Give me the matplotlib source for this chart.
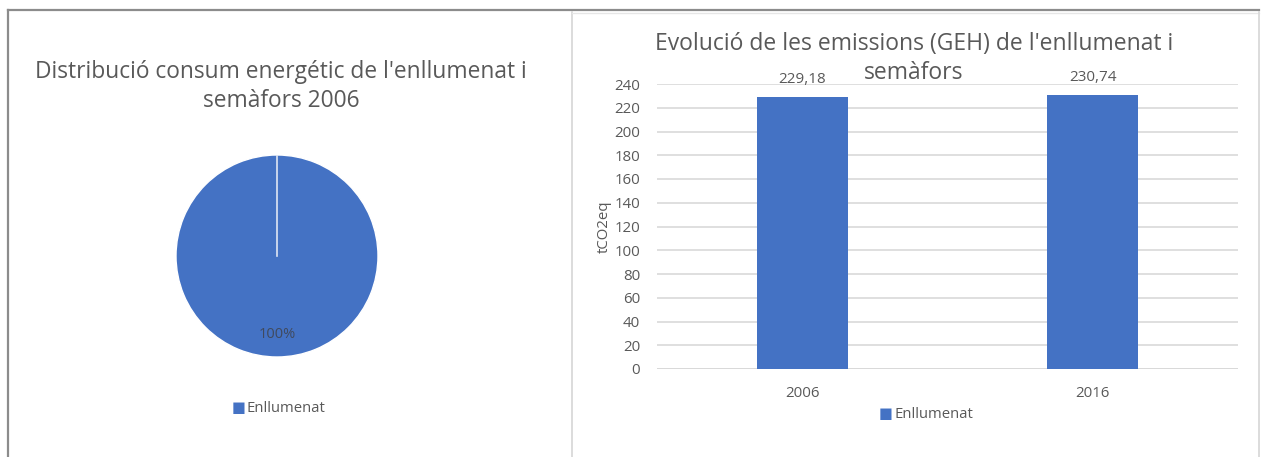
import matplotlib.pyplot as plt
from matplotlib.lines import Line2D

plt.rcParams['font.family'] = ['Open Sans', 'DejaVu Sans']

# dades
pie_labels = ['Enllumenat']
pie_values = [100]
years = ['2006', '2016']
emissions = [229.18, 230.74]
yticks = list(range(0, 241, 20))

W, H = 1261, 457
blue = '#4472C4'
txt = '#595959'
grid = '#D9D9D9'


def fx(x):
    return x / W


def fy(y):
    return 1 - y / H


fig = plt.figure(figsize=(W / 100, H / 100), dpi=100)
fig.patch.set_facecolor('white')

# marcs dels dos gràfics
fig.add_artist(Line2D([fx(8), fx(1259)], [fy(10), fy(10)], color='#8c8c8c', lw=1.6))
fig.add_artist(Line2D([fx(8), fx(8)], [fy(10), fy(457)], color='#8c8c8c', lw=1.6))
fig.add_artist(Line2D([fx(572), fx(572)], [fy(12), fy(457)], color='#d9d9d9', lw=1.3))
fig.add_artist(Line2D([fx(572), fx(1259)], [fy(13), fy(13)], color='#e6e6e6', lw=1.0))
fig.add_artist(Line2D([fx(1259), fx(1259)], [fy(12), fy(457)], color='#d9d9d9', lw=1.3))

# --- pastís ---
r = 101
ax1 = fig.add_axes([fx(277 - r), fy(256 + r), (2 * r) / W, (2 * r) / H])
wedges, texts, autotexts = ax1.pie(
    pie_values, colors=[blue], startangle=90, counterclock=False,
    autopct='%1.0f%%', pctdistance=0.78,
    wedgeprops=dict(edgecolor='white', linewidth=1.0),
    textprops=dict(color='#404a5e', fontsize=10.5))
ax1.set_xlim(-1, 1)
ax1.set_ylim(-1, 1)
ax1.set_aspect('equal')
ax1.plot([0, 0], [0, 1], color='#dfe6f3', lw=1.2)

fig.text(fx(281), fy(72), "Distribució consum energétic de l'enllumenat i",
         ha='center', va='center', fontsize=16.4, color=txt)
fig.text(fx(281), fy(101), "semàfors 2006",
         ha='center', va='center', fontsize=16.4, color=txt)

fig.text(fx(239), fy(409), '■', ha='center', va='center', fontsize=10.5, color=blue)
fig.text(fx(246), fy(409), pie_labels[0], ha='left', va='center', fontsize=10.7, color=txt)

# --- barres ---
ax2 = fig.add_axes([fx(657), fy(369), (1238 - 657) / W, (369 - 84) / H])
x = range(len(years))
bars = ax2.bar(x, emissions, width=0.313, color=blue, zorder=3)
ax2.set_xlim(-0.5, 1.5)
ax2.set_ylim(0, 240)
ax2.set_yticks(yticks)
ax2.set_xticks(list(x))
ax2.set_xticklabels(years)
ax2.tick_params(axis='both', length=0, colors=txt, labelsize=10.8)
ax2.tick_params(axis='y', pad=12)
ax2.tick_params(axis='x', pad=12)
ax2.grid(axis='y', color=grid, lw=1.2, zorder=0)
for s in ax2.spines.values():
    s.set_visible(False)
ax2.axhline(0, color=grid, lw=1.4, zorder=2)
ax2.set_ylabel('tCO2eq', fontsize=10.8, color=txt)
ax2.yaxis.set_label_coords((612 - 657) / (1238 - 657), 0.5)

for b, v in zip(bars, emissions):
    ax2.text(b.get_x() + b.get_width() / 2, v + 8,
             f'{v:.2f}'.replace('.', ','), ha='center', va='bottom',
             fontsize=11, color=txt, clip_on=False)

fig.text(fx(914), fy(44), "Evolució de les emissions (GEH) de l'enllumenat i",
         ha='center', va='center', fontsize=16.5, color=txt)
fig.text(fx(914), fy(73), "semàfors",
         ha='center', va='center', fontsize=16.5, color=txt)

fig.text(fx(886), fy(415), '■', ha='center', va='center', fontsize=10.5, color=blue)
fig.text(fx(894), fy(415), pie_labels[0], ha='left', va='center', fontsize=10.7, color=txt)

fig.savefig('out.png', dpi=100, facecolor='white')
